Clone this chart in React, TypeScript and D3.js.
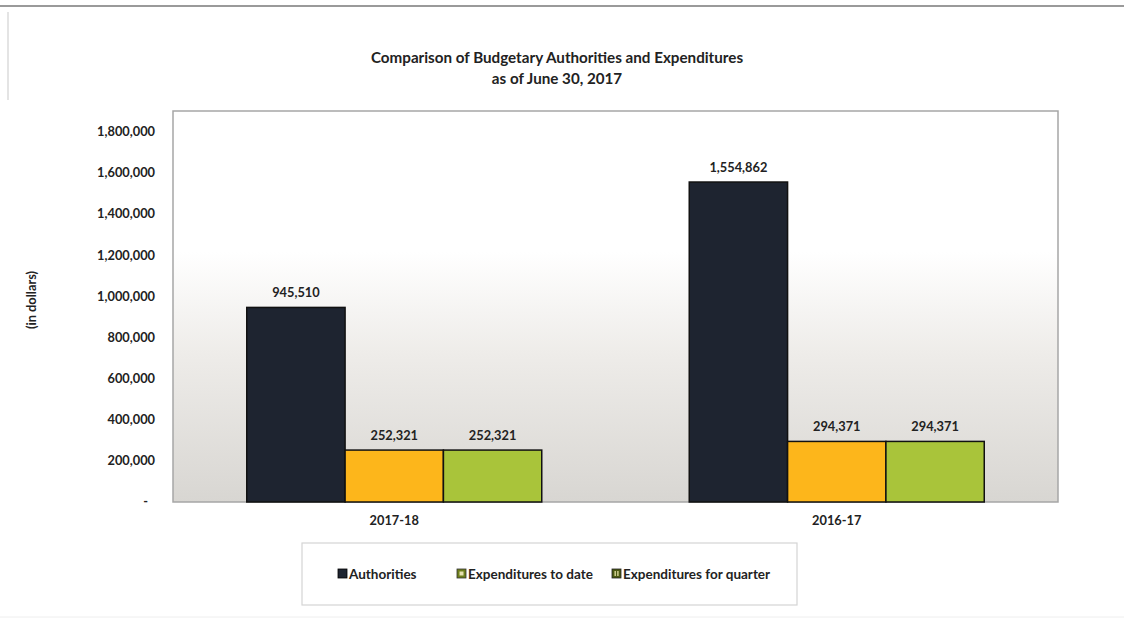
import React from "react";
import * as d3 from "d3";

const categories = ["2017-18", "2016-17"];
const seriesNames = ["Authorities", "Expenditures to date", "Expenditures for quarter"];
const authorities = [945510, 1554862];
const expendituresToDate = [252321, 294371];
const expendituresForQuarter = [252321, 294371];
const yTicks = [0, 200000, 400000, 600000, 800000, 1000000, 1200000, 1400000, 1600000, 1800000];

const W = 1124;
const H = 620;
const plot = { left: 173, top: 111, right: 1058, bottom: 502 };
const colors = ["#1e2430", "#fdb61b", "#a9c43a"];
const FONT = "Lato, 'Open Sans', sans-serif";

export default function App() {
  const x0 = d3.scaleBand<string>().domain(categories).range([plot.left, plot.right]).paddingInner(0).paddingOuter(0);
  const bw = x0.bandwidth();
  const barW = bw / (3 + 1.5);
  const x1 = d3
    .scaleBand<string>()
    .domain(seriesNames)
    .range([barW * 0.75, bw - barW * 0.75]);
  const y = d3.scaleLinear().domain([0, 1900000]).range([plot.bottom, plot.top]);
  const values = [authorities, expendituresToDate, expendituresForQuarter];
  const fmt = d3.format(",");

  const legendItems = [
    { x: 338, name: seriesNames[0] },
    { x: 457, name: seriesNames[1] },
    { x: 612, name: seriesNames[2] },
  ];

  return (
    <div style={{ position: "absolute", left: 0, top: 0 }}>
      <svg width={W} height={H} style={{ display: "block", background: "#fff" }}>
        <defs>
          <linearGradient id="bg" x1="0" y1="0" x2="0" y2="1">
            <stop offset="0" stopColor="#ffffff" />
            <stop offset="0.36" stopColor="#ffffff" />
            <stop offset="0.62" stopColor="#eeece9" />
            <stop offset="1" stopColor="#d8d6d2" />
          </linearGradient>
        </defs>
        {/* page frame */}
        <line x1={0} x2={W} y1={6} y2={6} stroke="#9a9a9a" strokeWidth={2} />
        <line x1={8} x2={8} y1={12} y2={100} stroke="#e4e4e4" strokeWidth={2} />
        <line x1={0} x2={W} y1={617} y2={617} stroke="#eeeeee" strokeWidth={1} />

        {/* title */}
        <text x={557} y={63} textAnchor="middle" fontFamily={FONT} fontWeight="bold" fontSize={15.2} fill="#222">
          Comparison of Budgetary Authorities and Expenditures
        </text>
        <text x={557} y={84} textAnchor="middle" fontFamily={FONT} fontWeight="bold" fontSize={15.2} fill="#222">
          as of June 30, 2017
        </text>

        {/* plot area */}
        <rect
          x={plot.left}
          y={plot.top}
          width={plot.right - plot.left}
          height={plot.bottom - plot.top}
          fill="url(#bg)"
          stroke="#a6a6a6"
          strokeWidth={1.5}
        />

        {/* y ticks */}
        {yTicks.map((t) => (
          <text
            key={t}
            x={t === 0 ? 148 : 155}
            y={y(t)}
            dy="0.35em"
            textAnchor="end"
            fontFamily={FONT}
            fontWeight="bold"
            fontSize={12.8}
            fill="#222"
          >
            {t === 0 ? "-" : fmt(t)}
          </text>
        ))}
        <text
          transform={`translate(36,${300}) rotate(-90)`}
          textAnchor="middle"
          fontFamily={FONT}
          fontWeight="bold"
          fontSize={12.8}
          fill="#222"
        >
          (in dollars)
        </text>

        {/* bars */}
        {categories.map((c, ci) => (
          <g key={c} transform={`translate(${x0(c)},0)`}>
            {seriesNames.map((s, si) => {
              const v = values[si][ci];
              const bx = x1(s)!;
              const by = y(v);
              return (
                <g key={s}>
                  <rect
                    x={bx}
                    y={by}
                    width={x1.bandwidth()}
                    height={y(0) - by}
                    fill={colors[si]}
                    stroke="#111"
                    strokeWidth={1.5}
                  />
                  <text
                    x={bx + x1.bandwidth() / 2}
                    y={by - 15}
                    dy="0.35em"
                    textAnchor="middle"
                    fontFamily={FONT}
                    fontWeight="bold"
                    fontSize={12.8}
                    fill="#222"
                  >
                    {fmt(v)}
                  </text>
                </g>
              );
            })}
            <text
              x={bw / 2}
              y={521}
              dy="0.35em"
              textAnchor="middle"
              fontFamily={FONT}
              fontWeight="bold"
              fontSize={12.8}
              fill="#222"
            >
              {c}
            </text>
          </g>
        ))}

        {/* legend */}
        <rect x={302} y={543} width={495} height={62} fill="#fff" stroke="#d4d4d4" strokeWidth={1.2} />
        {legendItems.map((it, i) => (
          <g key={it.name}>
            {i === 0 && <rect x={it.x} y={569} width={9} height={9} fill="#1e2430" stroke="#000" strokeWidth={0.8} />}
            {i === 1 && (
              <g>
                <rect x={it.x} y={569} width={9} height={9} fill="#6f7f1c" stroke="#333" strokeWidth={0.8} />
                <rect x={it.x + 2.5} y={571.5} width={4} height={4} fill="#e6e1b0" />
              </g>
            )}
            {i === 2 && (
              <g>
                <rect x={it.x} y={569} width={9} height={9} fill="#4c5a12" stroke="#222" strokeWidth={0.8} />
                <rect x={it.x + 2.5} y={571} width={1.4} height={5} fill="#d9d79a" />
                <rect x={it.x + 5.2} y={571} width={1.4} height={5} fill="#d9d79a" />
              </g>
            )}
            <text x={it.x + 11} y={578.5} fontFamily={FONT} fontWeight="bold" fontSize={13.5} fill="#222">
              {it.name}
            </text>
          </g>
        ))}
      </svg>
    </div>
  );
}
